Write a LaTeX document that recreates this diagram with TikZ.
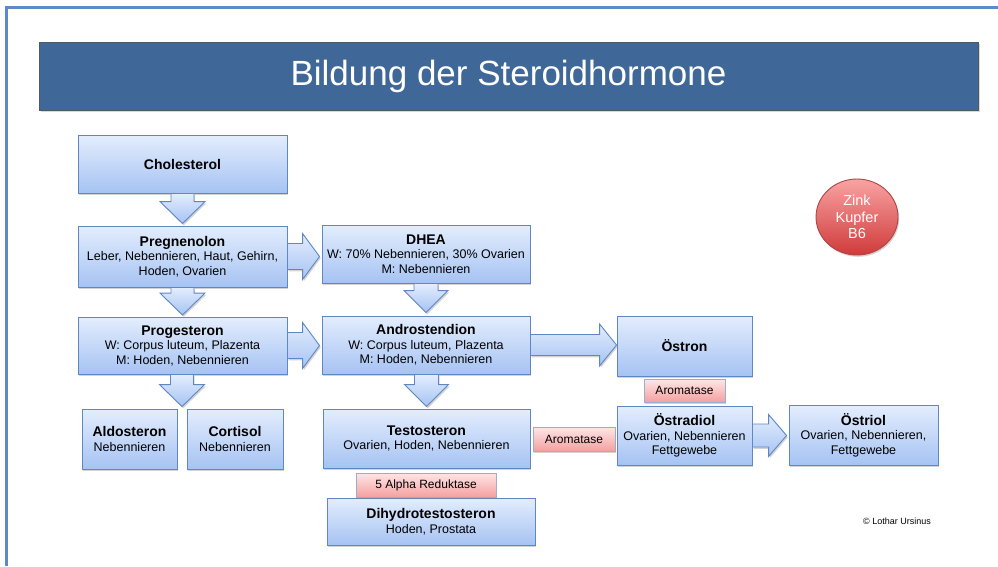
\documentclass[tikz,border=0pt]{standalone}
\usepackage{fontspec}
\setmainfont{Liberation Sans}
\usetikzlibrary{calc,shadows,shapes.geometric}
\definecolor{frameblue}{HTML}{5B8AC6}
\definecolor{titlefill}{HTML}{3F6797}
\definecolor{titleline}{HTML}{505860}
\definecolor{boxtop}{HTML}{E3EDFD}
\definecolor{boxbot}{HTML}{A6C3F3}
\definecolor{boxline}{HTML}{5F87C3}
\definecolor{redtop}{HTML}{FFE6E6}
\definecolor{redbot}{HTML}{F4A0A0}
\definecolor{redline}{HTML}{9AAED4}
\definecolor{circtop}{HTML}{F9A3A3}
\definecolor{circbot}{HTML}{D03A3A}
\definecolor{circline}{HTML}{B04545}
\newcommand\smtxt{\fontsize{12.5}{14.5}\selectfont}
\newcommand\ttl[1]{{\fontsize{14}{15.5}\selectfont\bfseries #1}}
\newcommand\blkdown[5]{%
  \draw[blockarrow] let \p1=(#1), \p2=(#2) in
   (\x2-#3pt,\y1) -- (\x2-#3pt,\y2+#5pt) -- (\x2-#4pt,\y2+#5pt) -- (\x2,\y2)
   -- (\x2+#4pt,\y2+#5pt) -- (\x2+#3pt,\y2+#5pt) -- (\x2+#3pt,\y1) -- cycle;}
\newcommand\blkright[5]{%
  \draw[blockarrow] let \p1=(#1), \p2=(#2) in
   (\x1,\y2+#3pt) -- (\x2-#5pt,\y2+#3pt) -- (\x2-#5pt,\y2+#4pt) -- (\x2,\y2)
   -- (\x2-#5pt,\y2-#4pt) -- (\x2-#5pt,\y2-#3pt) -- (\x1,\y2-#3pt) -- cycle;}
\tikzset{
  shad/.style={drop shadow={opacity=0.35,shadow xshift=1.2pt,shadow yshift=-1.8pt}},
  box/.style={draw=boxline, line width=0.9pt, top color=boxtop, bottom color=boxbot,
    shad, align=center, inner sep=0pt, font=\smtxt, text=black},
  enzyme/.style={draw=redline, line width=0.9pt, top color=redtop, bottom color=redbot,
    shad, align=center, inner sep=0pt, font=\fontsize{12}{14}\selectfont, text=black},
  blockarrow/.style={draw=boxline, line width=0.9pt, top color=boxtop, bottom color=boxbot,
    shad, line join=miter},
}
\begin{document}
\begin{tikzpicture}[x=1pt,y=-1pt]
\useasboundingbox (0,0) rectangle (998,566);
% frame
\draw[frameblue, line width=3pt] (5,7) -- (998,7);
\draw[frameblue, line width=3pt] (6.5,5.5) -- (6.5,566);
% title
\node[draw=titleline, line width=1pt, fill=titlefill, minimum width=939pt, minimum height=68pt,
  inner sep=0pt, text=white, font=\fontsize{35}{40}\selectfont,
  drop shadow={opacity=0.3,shadow xshift=1.5pt,shadow yshift=-1.5pt}]
  (title) at (508.5,76) {Bildung der Steroidhormone};
% boxes
\node[box, minimum width=209pt, minimum height=58pt] (chol) at (182.5,164) {\ttl{Cholesterol}};
\node[box, minimum width=209pt, minimum height=61pt] (preg) at (182.5,256.5)
  {\ttl{Pregnenolon}\\Leber, Nebennieren, Haut, Gehirn,\\Hoden, Ovarien};
\node[box, minimum width=209pt, minimum height=57pt] (prog) at (182.5,345.5)
  {\ttl{Progesteron}\\W: Corpus luteum, Plazenta\\M: Hoden, Nebennieren};
\node[box, minimum width=95pt, minimum height=60pt] (aldo) at (129.5,439)
  {\ttl{Aldosteron}\\Nebennieren};
\node[box, minimum width=96pt, minimum height=60pt] (cort) at (235,439)
  {\ttl{Cortisol}\\Nebennieren};
\node[box, minimum width=208pt, minimum height=58pt] (dhea) at (426,254)
  {\ttl{DHEA}\\W: 70\% Nebennieren, 30\% Ovarien\\M: Nebennieren};
\node[box, minimum width=208pt, minimum height=58pt] (andro) at (426,345)
  {\ttl{Androstendion}\\W: Corpus luteum, Plazenta\\M: Hoden, Nebennieren};
\node[box, minimum width=207pt, minimum height=59pt] (testo) at (426.5,438.5)
  {\ttl{Testosteron}\\Ovarien, Hoden, Nebennieren};
\node[box, minimum width=208pt, minimum height=47pt] (dht) at (431,521.5)
  {\ttl{Dihydrotestosteron}\\Hoden, Prostata};
\node[enzyme, minimum width=140pt, minimum height=24pt] (red) at (426,485) {5 Alpha Reduktase};
\node[box, minimum width=135pt, minimum height=60pt] (ostron) at (684.5,346) {\ttl{Östron}};
\node[enzyme, minimum width=81pt, minimum height=23pt] (arom1) at (684.5,390.5) {Aromatase};
\node[box, minimum width=135pt, minimum height=59pt] (ostradiol) at (684.5,435.5)
  {\ttl{Östradiol}\\Ovarien, Nebennieren\\Fettgewebe};
\node[enzyme, minimum width=82pt, minimum height=24pt] (arom2) at (574,439) {Aromatase};
\node[box, minimum width=149pt, minimum height=60pt] (ostriol) at (863.5,435)
  {\ttl{Östriol}\\Ovarien, Nebennieren,\\Fettgewebe};
% circle
\node[ellipse, draw=circline, line width=0.9pt, top color=circtop, bottom color=circbot,
  minimum width=82pt, minimum height=76pt, inner sep=0pt, align=center, text=white,
  font=\fontsize{14.5}{16.5}\selectfont, shad] (zink) at (857,217) {Zink\\Kupfer\\B6};
% copyright
\node[font=\fontsize{9}{10}\selectfont, inner sep=0pt] (copy) at (897,521) {© Lothar Ursinus};
% arrows
\coordinate (acsplit) at ($(aldo.north east)!0.5!(cort.north west)+(0,-2)$);
\blkdown{chol.south}{$(preg.north)+(0,-2)$}{11.5}{22.5}{22}
\blkdown{preg.south}{$(prog.north)+(0,-1.5)$}{11.5}{22.5}{22}
\blkdown{prog.south}{acsplit}{11.5}{22.5}{22}
\blkdown{dhea.south}{$(andro.north)+(0,-3)$}{12}{22}{22}
\blkdown{andro.south}{$(testo.north)+(0,-2)$}{12}{22}{22}
\blkright{preg.east}{$(dhea.west|-preg.east)+(-2,0)$}{13}{23}{17}
\blkright{prog.east}{$(andro.west|-prog.east)+(-2,0)$}{13}{23}{17}
\blkright{andro.east}{$(ostron.west|-andro.east)$}{10.5}{21}{17}
\blkright{ostradiol.east}{$(ostriol.west|-ostradiol.east)+(-2,0)$}{11.5}{21}{18}
\end{tikzpicture}
\end{document}
